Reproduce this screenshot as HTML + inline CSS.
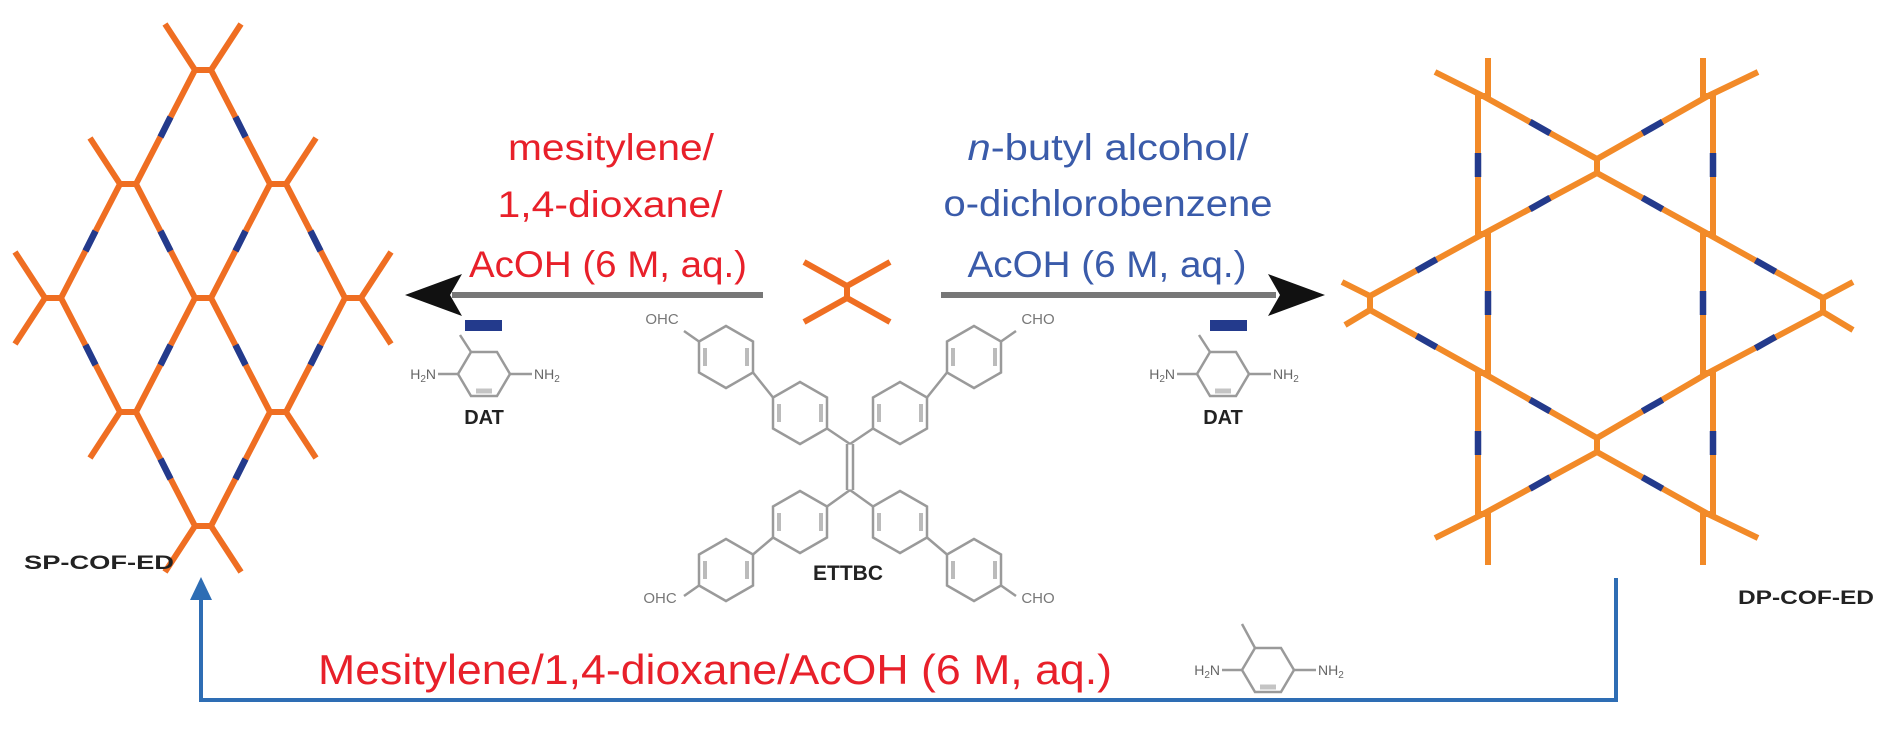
<!DOCTYPE html>
<html><head><meta charset="utf-8"><style>
html,body{margin:0;padding:0;background:#fff;}
svg{display:block;}
</style></head><body>
<svg width="1890" height="732" viewBox="0 0 1890 732" xmlns="http://www.w3.org/2000/svg">
<rect width="1890" height="732" fill="#fff"/>
<!-- LEFT LATTICE -->
<g stroke="#EF6E22" stroke-width="6" fill="none" stroke-linecap="butt">
<path d="M195,70L136,184 M211,70L270,184 M120,184L61,298 M136,184L195,298 M270,184L211,298 M286,184L345,298 M61,298L120,412 M195,298L136,412 M211,298L270,412 M345,298L286,412 M136,412L195,526 M270,412L211,526"/>
<path d="M195,70L165,24 M211,70L241,24 M120,184L90,138 M286,184L316,138 M45,298L15,252 M45,298L15,344 M361,298L391,252 M361,298L391,344 M120,412L90,458 M286,412L316,458 M195,526L165,572 M211,526L241,572"/>
<path d="M195,70H211 M120,184H136 M270,184H286 M45,298H61 M195,298H211 M345,298H361 M120,412H136 M270,412H286 M195,526H211"/>
</g>
<g stroke="#233A8C" stroke-width="6.5">
<path d="M170.5,117L160.5,137 M235.5,117L245.5,137 M95.5,231L85.5,251 M160.5,231L170.5,251 M245.5,231L235.5,251 M310.5,231L320.5,251 M85.5,345L95.5,365 M170.5,345L160.5,365 M235.5,345L245.5,365 M320.5,345L310.5,365 M160.5,459L170.5,479 M245.5,459L235.5,479"/>
</g>
<!-- RIGHT LATTICE -->
<g stroke="#F28A28" stroke-width="6" fill="none">
<polyline points="1488,58 1488,96 1478,96 1478,234 1488,234 1488,373 1478,373 1478,514 1488,514 1488,565"/>
<polyline points="1703,58 1703,96 1713,96 1713,234 1703,234 1703,373 1713,373 1713,514 1703,514 1703,565"/>
<path d="M1483,96L1597,159 M1597,159L1708,96 M1597,173L1708,234 M1597,173L1483,234 M1370,296L1483,234 M1370,310L1483,373 M1823,298L1708,234 M1823,312L1708,373 M1483,373L1597,438 M1597,438L1708,373 M1597,452L1483,514 M1597,452L1708,514"/>
<path d="M1597,159V173 M1597,438V452 M1370,296V310 M1823,298V312"/>
<path d="M1483,96L1435,72 M1708,96L1758,72 M1483,514L1435,538 M1708,514L1758,538 M1370,296L1342,282 M1370,310L1345,325 M1823,298L1853,282 M1823,312L1853,330"/>
</g>
<g stroke="#233A8C" stroke-width="6.5">
<path d="M1530,121.8L1550,133.2 M1642.5,133.2L1662.5,121.8 M1642.5,197.8L1662.5,209.2 M1550,197.8L1530,209.2 M1416.5,270.7L1436.5,259.3 M1416.5,335.8L1436.5,347.2 M1755.5,260.3L1775.5,271.7 M1755.5,348.2L1775.5,336.8 M1530,399.8L1550,411.2 M1642.5,411.2L1662.5,399.8 M1550,477.3L1530,488.7 M1642.5,477.3L1662.5,488.7"/>
<path d="M1478,153V177 M1488,291V315 M1478,431V455 M1713,153V177 M1703,291V315 M1713,431V455"/>
</g>
<!-- middle X -->
<g stroke="#EF6E22" stroke-width="6" fill="none">
<path d="M847,286V298 M847,286L804,262 M847,286L890,262 M847,298L804,322 M847,298L890,322"/>
</g>
<!-- Arrows -->
<line x1="452" y1="295" x2="763" y2="295" stroke="#777" stroke-width="6"/>
<polygon points="405,295 462,274 450,295 462,316" fill="#111"/>
<line x1="941" y1="295" x2="1276" y2="295" stroke="#777" stroke-width="6"/>
<polygon points="1325,295 1268,274 1280,295 1268,316" fill="#111"/>
<!-- dashes -->
<rect x="465" y="320" width="37" height="11" fill="#233A8C"/>
<rect x="1210" y="320" width="37" height="11" fill="#233A8C"/>
<!-- condition texts -->
<g font-family="Liberation Sans, sans-serif" font-size="37" fill="#E8202A" text-anchor="middle">
<text x="611" y="160" textLength="206" lengthAdjust="spacingAndGlyphs">mesitylene/</text>
<text x="610" y="217" textLength="225" lengthAdjust="spacingAndGlyphs">1,4-dioxane/</text>
<text x="608" y="277" textLength="278" lengthAdjust="spacingAndGlyphs">AcOH (6 M, aq.)</text>
</g>
<g font-family="Liberation Sans, sans-serif" font-size="37" fill="#3A5BAA" text-anchor="middle">
<text x="1108" y="160" textLength="281" lengthAdjust="spacingAndGlyphs"><tspan font-style="italic">n</tspan>-butyl alcohol/</text>
<text x="1108" y="216" textLength="329" lengthAdjust="spacingAndGlyphs">o-dichlorobenzene</text>
<text x="1107" y="277" textLength="279" lengthAdjust="spacingAndGlyphs">AcOH (6 M, aq.)</text>
</g>
<!-- ETTBC molecule -->
<g stroke="#9a9a9a" stroke-width="2.5" fill="none">
<polygon points="800,382 827,397.5 827,428.5 800,444 773,428.5 773,397.5"/>
<polygon points="726,326 753,341.5 753,372.5 726,388 699,372.5 699,341.5"/>
<polygon points="900,382 927,397.5 927,428.5 900,444 873,428.5 873,397.5"/>
<polygon points="974,326 1001,341.5 1001,372.5 974,388 947,372.5 947,341.5"/>
<polygon points="800,491 827,506.5 827,537.5 800,553 773,537.5 773,506.5"/>
<polygon points="726,539 753,554.5 753,585.5 726,601 699,585.5 699,554.5"/>
<polygon points="900,491 927,506.5 927,537.5 900,553 873,537.5 873,506.5"/>
<polygon points="974,539 1001,554.5 1001,585.5 974,601 947,585.5 947,554.5"/>
<path d="M827,428.5L850,444 M873,428.5L850,444 M847,444V490 M853,444V490 M827,506.5L850,490 M873,506.5L850,490 M773,397.5L753,372.5 M927,397.5L947,372.5 M773,537.5L753,554.5 M927,537.5L947,554.5 M699,341.5L684,331 M1001,341.5L1016,331 M699,585.5L684,596 M1001,585.5L1016,596"/>
<path stroke="#bbb" stroke-width="4" d="M779,404V422 M821,404V422 M705,348V366 M747,348V366 M879,404V422 M921,404V422 M953,348V366 M995,348V366 M779,513V531 M821,513V531 M705,561V579 M747,561V579 M879,513V531 M921,513V531 M953,561V579 M995,561V579"/>
</g>
<g font-family="Liberation Sans, sans-serif" font-size="15" fill="#777">
<text x="662" y="324" text-anchor="middle">OHC</text>
<text x="1038" y="324" text-anchor="middle">CHO</text>
<text x="660" y="603" text-anchor="middle">OHC</text>
<text x="1038" y="603" text-anchor="middle">CHO</text>
</g>
<text x="848" y="580" font-family="Liberation Sans, sans-serif" font-size="21" font-weight="bold" fill="#222" text-anchor="middle">ETTBC</text>
<!-- DAT molecules -->
<g stroke="#9a9a9a" stroke-width="2.5" fill="none">
<polygon points="458,374 471,352 497,352 510,374 497,396 471,396"/>
<path d="M471,352L460,335 M458,374H438 M510,374H532"/>
<polygon points="1197,374 1210,352 1236,352 1249,374 1236,396 1210,396"/>
<path d="M1210,352L1199,335 M1197,374H1177 M1249,374H1271"/>
<polygon points="1242,670 1255,648 1281,648 1294,670 1281,692 1255,692"/>
<path d="M1255,648L1242,624 M1242,670H1222 M1294,670H1316"/>
<path stroke="#c4c4c4" stroke-width="5" d="M476,391H492 M1215,391H1231 M1260,687H1276"/>
</g>
<g font-family="Liberation Sans, sans-serif" font-size="14" fill="#666">
<text x="436" y="379" text-anchor="end">H<tspan font-size="10" dy="3">2</tspan><tspan dy="-3">N</tspan></text>
<text x="534" y="379">NH<tspan font-size="10" dy="3">2</tspan></text>
<text x="1175" y="379" text-anchor="end">H<tspan font-size="10" dy="3">2</tspan><tspan dy="-3">N</tspan></text>
<text x="1273" y="379">NH<tspan font-size="10" dy="3">2</tspan></text>
<text x="1220" y="675" text-anchor="end">H<tspan font-size="10" dy="3">2</tspan><tspan dy="-3">N</tspan></text>
<text x="1318" y="675">NH<tspan font-size="10" dy="3">2</tspan></text>
</g>
<g font-family="Liberation Sans, sans-serif" font-size="20" font-weight="bold" fill="#222" text-anchor="middle">
<text x="484" y="424">DAT</text>
<text x="1223" y="424">DAT</text>
</g>
<!-- COF labels -->
<g font-family="Liberation Sans, sans-serif" font-size="19" font-weight="bold" fill="#222">
<text x="24" y="569" textLength="150" lengthAdjust="spacingAndGlyphs">SP-COF-ED</text>
<text x="1738" y="604" textLength="136" lengthAdjust="spacingAndGlyphs">DP-COF-ED</text>
</g>
<!-- bottom connector -->
<path d="M1616,578V700H201V596" stroke="#2E6DB4" stroke-width="4" fill="none"/>
<polygon points="201,577 190,600 212,600" fill="#2E6DB4"/>
<text x="318" y="684" font-family="Liberation Sans, sans-serif" font-size="42" fill="#E8202A" textLength="794" lengthAdjust="spacingAndGlyphs">Mesitylene/1,4-dioxane/AcOH (6 M, aq.)</text>
</svg>
</body></html>
